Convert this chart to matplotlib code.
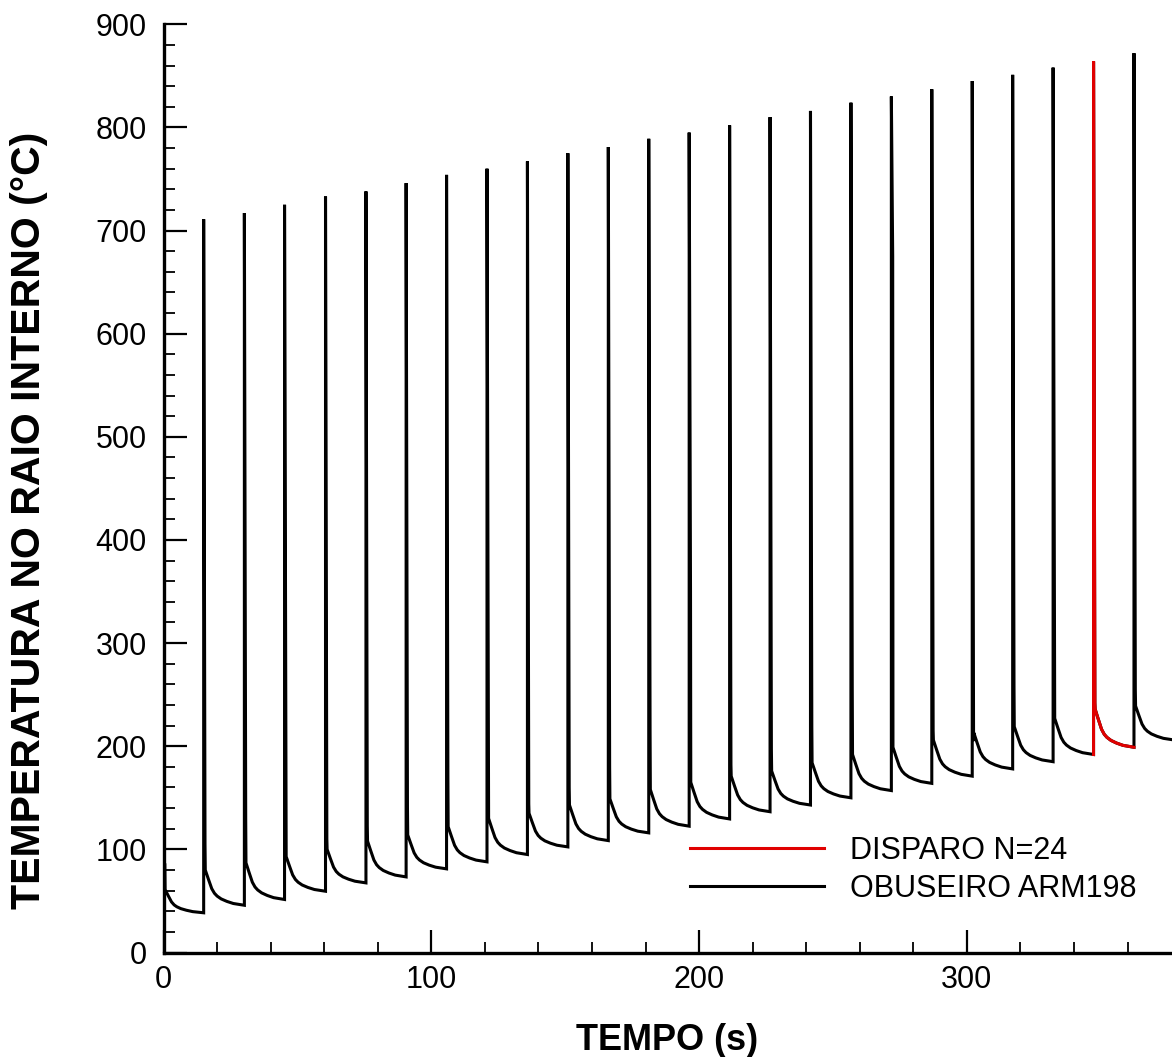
import matplotlib
matplotlib.use("Agg")
import matplotlib.pyplot as plt
import numpy as np
from matplotlib.ticker import MultipleLocator

plt.rcParams['font.family'] = ['Liberation Sans', 'DejaVu Sans']

# ---- data ----
shot_times = [0.0, 15.0, 30.2, 45.2, 60.5, 75.6, 90.6, 105.7, 120.8, 135.9, 151.0, 166.1,
              181.2, 196.3, 211.4, 226.5, 241.6, 256.7, 271.8, 286.9, 302.0, 317.1, 332.2,
              347.3, 362.4]
end_time_last = 377.5
peak_temp = [85, 711, 717, 725, 733, 738, 746, 754, 760, 767, 775, 781,
             789, 795, 802, 810, 816, 824, 830, 837, 845, 851, 858, 864, 872]
spike_temp = [85, 105, 130, 191, 110, 123, 141, 170, 256, 144, 160, 180,
              213, 350, 182, 197, 219, 255, 675, 215, 205, 258, 302, 242, 255]
knee_temp = [61, 80, 87, 93, 100, 108, 114, 122, 130, 135, 143, 149,
             158, 165, 171, 176, 184, 192, 199, 206, 213, 219, 227, 236, 239]
end_temp = [38.5, 45.8, 51.4, 59.4, 67.5, 73.3, 81.1, 87.9, 95.0, 102.4, 108.5, 116.0,
            122.5, 129.5, 136.5, 143.0, 150.0, 157.0, 164.0, 171.0, 178.0, 185.0, 192.0,
            199.0, 206.0]
# shared cooling profile after the knee (seconds after shot, fraction of knee-end drop)
decay_dt = [0.6, 1.2, 1.8, 2.4, 3.0, 4.0, 5.0, 6.5, 8.6, 11.0, 13.5, 15.1]
decay_frac = [1.0, 0.86, 0.73, 0.60, 0.47, 0.34, 0.26, 0.18, 0.11, 0.05, 0.02, 0.0]
red_shot_index = 23
labels = ["DISPARO N=24", "OBUSEIRO ARM198"]


def pulse_points(i):
    t0 = shot_times[i]
    t1 = shot_times[i + 1] if i + 1 < len(shot_times) else end_time_last
    span = t1 - t0
    xs, ys = [], []
    if i > 0:
        xs += [t0]
        ys += [end_temp[i - 1]]
    xs += [t0, t0 + 0.5]
    ys += [peak_temp[i], spike_temp[i]]
    for dt, f in zip(decay_dt, decay_frac):
        xs.append(t0 + dt * span / decay_dt[-1])
        ys.append(end_temp[i] + f * (knee_temp[i] - end_temp[i]))
    return xs, ys


black_x, black_y = [], []
for i in range(len(shot_times)):
    px, py = pulse_points(i)
    black_x += px
    black_y += py
red_x, red_y = pulse_points(red_shot_index)

W, H = 1172, 1057
fig = plt.figure(figsize=(W / 100, H / 100), dpi=100)
ax = fig.add_axes([163.5 / W, 1 - 952.5 / H, 1 - 163.5 / W, (952.5 - 24.3) / H])

lb, = ax.plot(black_x, black_y, color='black', lw=2.2, solid_joinstyle='miter')
lr, = ax.plot(red_x, red_y, color='#e00000', lw=2.2, solid_joinstyle='miter')

ax.set_xlim(0, 376.6)
ax.set_ylim(0, 900)
ax.spines['top'].set_visible(False)
ax.spines['right'].set_visible(False)
for s in ('left', 'bottom'):
    ax.spines[s].set_linewidth(2.4)

ax.xaxis.set_major_locator(MultipleLocator(100))
ax.xaxis.set_minor_locator(MultipleLocator(20))
ax.yaxis.set_major_locator(MultipleLocator(100))
ax.yaxis.set_minor_locator(MultipleLocator(20))
ax.tick_params(which='major', direction='in', length=16.5, width=1.6, labelsize=22)
ax.tick_params(which='minor', direction='in', length=8, width=1.3)
ax.tick_params(axis='y', which='major', pad=12)
ax.tick_params(axis='x', which='major', pad=9)
ax.tick_params(top=False, right=False, which='both')

fig.text(29 / W, 1 - 520 / H, 'TEMPERATURA NO RAIO INTERNO (°C)', rotation=90,
         ha='center', va='center', fontsize=29.5, fontweight='bold')
fig.text(667 / W, 1 - 1050 / H, 'TEMPO (s)', ha='center', va='baseline',
         fontsize=26, fontweight='bold')

ax.legend([lr, lb], labels, loc='upper left',
          bbox_to_anchor=(690 / W, 1 - 836 / H), bbox_transform=fig.transFigure,
          frameon=False, fontsize=22, handlelength=4.4, handletextpad=0.85,
          labelspacing=0.25, borderpad=0, borderaxespad=0)

fig.savefig('out.png', dpi=100)
